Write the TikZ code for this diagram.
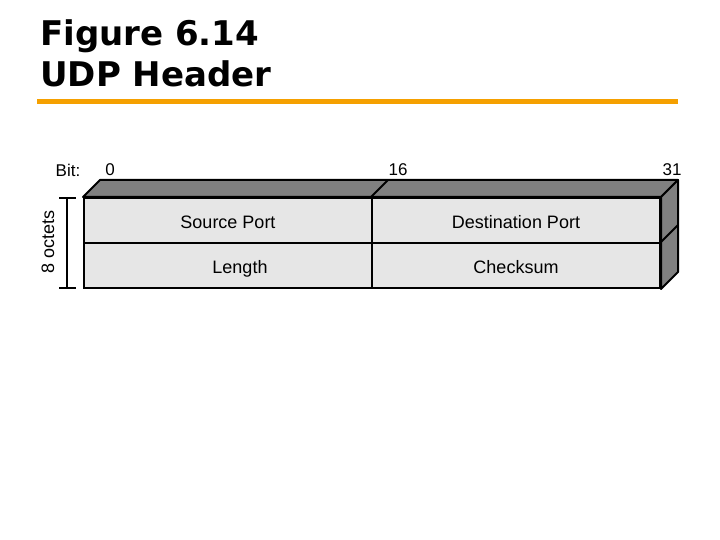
\documentclass[tikz,border=0pt]{standalone}
\usepackage{fontspec}
\setsansfont{Liberation Sans}
\newfontfamily\titlefont{DejaVu Sans}
\usetikzlibrary{positioning, calc}
\definecolor{rule}{HTML}{F5A000}
\definecolor{cellfill}{HTML}{E6E6E6}
\definecolor{shade}{HTML}{808080}

\begin{document}
\begin{tikzpicture}[
    x=1pt, y=-1pt,
    cell/.style={draw, line width=2pt, fill=cellfill, minimum width=288pt, minimum height=45pt, inner sep=0, text height=16pt, text depth=0pt, font=\sffamily\fontsize{18}{20}\selectfont},
    face/.style={draw, line width=2pt, fill=shade, line join=round},
    bitlabel/.style={font=\sffamily\fontsize{17}{20}\selectfont, inner sep=0}
]
\useasboundingbox (0,0) rectangle (720,540);

% title
\node[anchor=base west, font=\titlefont\bfseries\fontsize{34}{38}\selectfont, inner sep=0] (fig) at (40,46) {Figure 6.14};
\node[anchor=base west, font=\titlefont\bfseries\fontsize{34}{38}\selectfont, inner sep=0] (ttl) at (40,87) {UDP Header};
\coordinate (ruleL) at (37,101.5);
\coordinate (ruleR) at (678,101.5);
\draw[rule, line width=5pt] (ruleL) -- (ruleR);

% header cells
\node[cell] (src) at (228,220.5) {Source Port};
\node[cell] (dst) at (516,220.5) {Destination Port};
\node[cell] (len) at (228,265.5) {\hspace{24pt}Length};
\node[cell] (chk) at (516,265.5) {Checksum};

% top and side faces
\draw[face] (src.north west) -- ++(17,-17) -- ($(dst.north east)+(17,-17)$) -- (dst.north east) -- cycle;
\draw[line width=2pt] (dst.north west) -- ++(17,-17);
\draw[face] (dst.north east) -- ++(17,-17) -- ($(chk.south east)+(17,-17)$) -- (chk.south east) -- cycle;
\draw[line width=2pt] (chk.north east) -- ++(17,-17);

% bit positions
\node[bitlabel] (bit) at (68,170) {Bit:};
\node[bitlabel] (b0) at (110,170) {0};
\node[bitlabel] (b16) at (398,170) {16};
\node[bitlabel] (b31) at (672,170) {31};

% octets bracket
\coordinate (octT) at (67,198);
\coordinate (octB) at (67,288);
\draw[line width=1.5pt] (octT) -- (octB);
\draw[line width=1.5pt] ($(octT)+(-8,0)$) -- ($(octT)+(9,0)$);
\draw[line width=1.5pt] ($(octB)+(-8,0)$) -- ($(octB)+(9,0)$);
\node[bitlabel, rotate=90, font=\sffamily\fontsize{18}{20}\selectfont] (oct) at (48,242) {8 octets};
\end{tikzpicture}
\end{document}
